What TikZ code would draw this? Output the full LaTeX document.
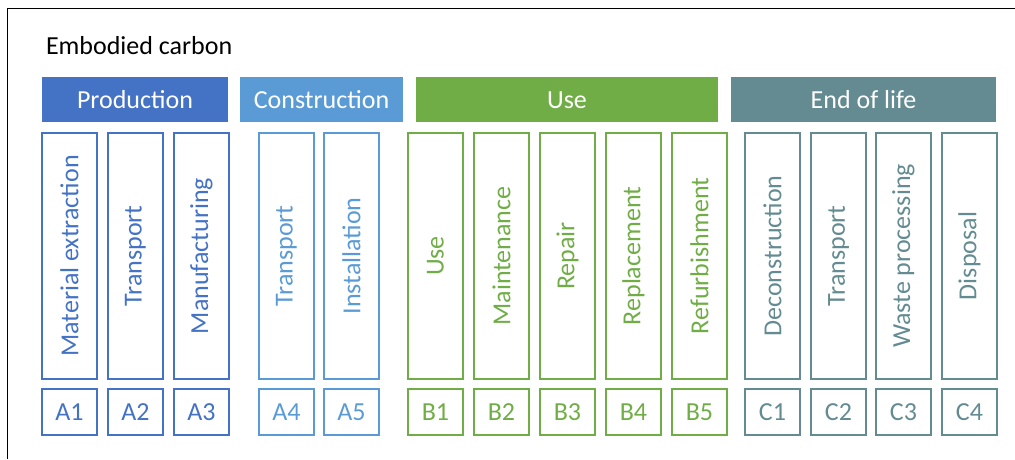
\documentclass[tikz,border=0pt]{standalone}
\usepackage{fontspec}
\setmainfont{Carlito}
\definecolor{prodc}{HTML}{4472C4}
\definecolor{consc}{HTML}{5B9BD5}
\definecolor{usec}{HTML}{70AD47}
\definecolor{eolc}{HTML}{638B91}
\begin{document}
\begin{tikzpicture}[x=1pt,y=-1pt,
  every node/.style={font=\fontsize{26}{30}\selectfont, inner sep=0pt, outer sep=0pt},
  header/.style={anchor=north west, text=white, minimum height=45pt, text height=18pt, text depth=0pt},
  tallbox/.style={draw=#1, text=#1, line width=1.4pt, rotate=90, minimum width=246pt, minimum height=55pt, anchor=center},
  codebox/.style={draw=#1, text=#1, line width=1.4pt, minimum width=55pt, minimum height=46pt, anchor=center}]
\useasboundingbox (0,0) rectangle (1015,459);
\draw[line width=1.5pt] (7.5,459) -- (7.5,8.5) -- (1015,8.5);
\node[anchor=base west] (title) at (46,54) {Embodied carbon};
% headers
\node[header, fill=prodc, minimum width=186pt] (hprod) at (42,77) {Production};
\node[header, fill=consc, minimum width=163pt] (hcons) at (240,77) {Construction};
\node[header, fill=usec, minimum width=302pt] (huse) at (416,77) {Use};
\node[header, fill=eolc, minimum width=265pt] (heol) at (731,77) {End of life};
% tall boxes (centre x = left + 27.5, centre y = 256)
\node[tallbox=prodc] (t1) at (69.5,256) {Material extraction};
\node[tallbox=prodc] (t2) at (135.5,256) {Transport};
\node[tallbox=prodc] (t3) at (201.5,256) {Manufacturing};
\node[tallbox=consc] (t4) at (286.5,256) {Transport};
\node[tallbox=consc] (t5) at (351.5,256) {Installation};
\node[tallbox=usec] (t6) at (435.5,256) {Use};
\node[tallbox=usec] (t7) at (501.5,256) {Maintenance};
\node[tallbox=usec] (t8) at (567.5,256) {Repair};
\node[tallbox=usec] (t9) at (633.5,256) {Replacement};
\node[tallbox=usec] (t10) at (699.5,256) {Refurbishment};
\node[tallbox=eolc] (t11) at (772.5,256) {Deconstruction};
\node[tallbox=eolc] (t12) at (838.5,256) {Transport};
\node[tallbox=eolc] (t13) at (903.5,256) {Waste processing};
\node[tallbox=eolc] (t14) at (969.5,256) {Disposal};
% code boxes
\node[codebox=prodc] (c1) at (69.5,412) {A1};
\node[codebox=prodc] (c2) at (135.5,412) {A2};
\node[codebox=prodc] (c3) at (201.5,412) {A3};
\node[codebox=consc] (c4) at (286.5,412) {A4};
\node[codebox=consc] (c5) at (351.5,412) {A5};
\node[codebox=usec] (c6) at (435.5,412) {B1};
\node[codebox=usec] (c7) at (501.5,412) {B2};
\node[codebox=usec] (c8) at (567.5,412) {B3};
\node[codebox=usec] (c9) at (633.5,412) {B4};
\node[codebox=usec] (c10) at (699.5,412) {B5};
\node[codebox=eolc] (c11) at (772.5,412) {C1};
\node[codebox=eolc] (c12) at (838.5,412) {C2};
\node[codebox=eolc] (c13) at (903.5,412) {C3};
\node[codebox=eolc] (c14) at (969.5,412) {C4};
\end{tikzpicture}
\end{document}
